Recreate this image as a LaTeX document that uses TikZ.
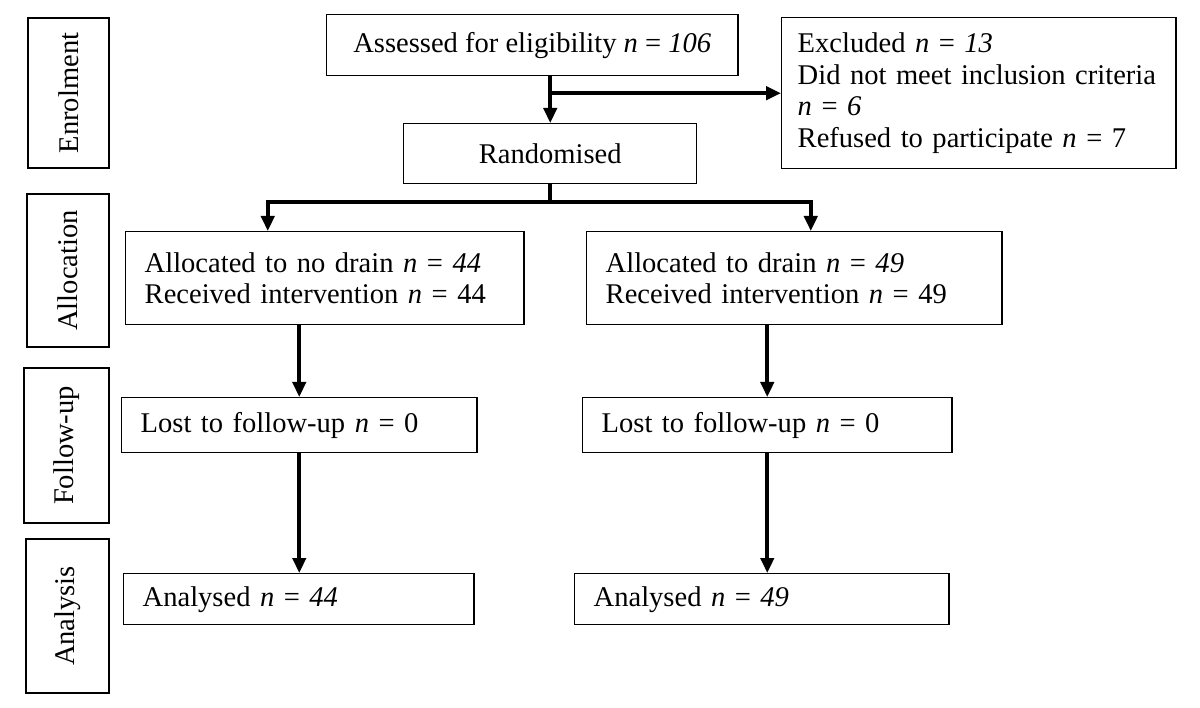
\documentclass[tikz,border=0pt]{standalone}
\usepackage{fontspec}
\setmainfont{Liberation Serif}
\usetikzlibrary{arrows.meta,calc}
\tikzset{
  box/.style={draw,line width=1pt,anchor=north west,inner xsep=0.475cm,inner ysep=0pt,align=left,
    font=\fontsize{20.3}{22.5}\selectfont},
  cbox/.style={box,align=center},
  side/.style={draw,line width=1pt,rotate=90,inner sep=0pt,font=\fontsize{20.3}{22.5}\selectfont},
  link/.style={line width=0.1cm,-{Triangle[length=0.375cm,width=0.33cm]}},
}
\begin{document}
\begin{tikzpicture}[x=0.025cm,y=-0.025cm]
  \useasboundingbox (0,0) rectangle (1200,708);
  % stage labels
  \node[side,minimum width=3.75cm,minimum height=2.025cm](sEnrol)at(68.5,93){Enrolment};
  \node[side,minimum width=3.825cm,minimum height=2.05cm](sAlloc)at(68,270.5){Allocation};
  \node[side,minimum width=3.875cm,minimum height=2.125cm](sFollow)at(66.5,445.5){Follow-up};
  \node[side,minimum width=3.85cm,minimum height=2.075cm](sAnal)at(67.5,616){Analysis};
  % boxes
  \node[cbox,minimum width=10.275cm,minimum height=1.525cm](assess)at(326,14){Assessed for eligibility \textit{n} = \textit{106}};
  \node[cbox,minimum width=7.325cm,minimum height=1.5cm](rand)at(403,123){Randomised};
  \node[box,text width=9.05cm,inner xsep=0.4cm,minimum height=3.775cm](excl)at(781,17){Excluded \textit{n} = \textit{13}\\
    Did not meet inclusion criteria\\\textit{n} = \textit{6}\\Refused to participate \textit{n} = 7};
  \node[box,text width=9cm,minimum height=2.325cm](noalloc)at(125,231){Allocated to no drain \textit{n} = \textit{44}\\
    Received intervention \textit{n} = 44};
  \node[box,text width=9.425cm,minimum height=2.325cm](drain)at(586,231){Allocated to drain \textit{n} = \textit{49}\\
    Received intervention \textit{n} = 49};
  \node[box,text width=7.925cm,minimum height=1.375cm](lostL)at(121,397){Lost to follow-up \textit{n} = 0};
  \node[box,text width=8.275cm,minimum height=1.375cm](lostR)at(582,397){Lost to follow-up \textit{n} = 0};
  \node[box,text width=7.8cm,minimum height=1.275cm](anL)at(123,573){Analysed \textit{n} = \textit{44}};
  \node[box,text width=8.4cm,minimum height=1.275cm](anR)at(574,573){Analysed \textit{n} = \textit{49}};
  % arrows
  \draw[link](rand.north |- assess.south)--(rand.north);
  \draw[link](rand.north |- excl.west)--(excl.west);
  \coordinate(split)at($(rand.south)+(0,18)$);
  \draw[link](rand.south)--(split)-|($(noalloc.north)+(-57,0)$);
  \draw[link](split)-|($(drain.north)+(16.5,0)$);
  \draw[link](lostL.north |- noalloc.south)--(lostL.north);
  \draw[link](lostL.south)--(lostL.south |- anL.north);
  \draw[link](lostR.north |- drain.south)--(lostR.north);
  \draw[link](lostR.south)--(lostR.south |- anR.north);
\end{tikzpicture}
\end{document}
